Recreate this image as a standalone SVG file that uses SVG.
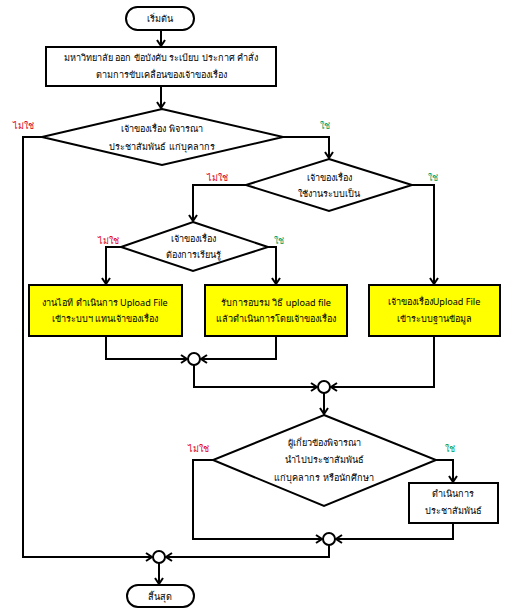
<svg xmlns="http://www.w3.org/2000/svg" width="505" height="614" viewBox="0 0 505 614">
<style>
.s{fill:#fff;stroke:#000;stroke-width:2}
.y{fill:#ffff00;stroke:#000;stroke-width:2}
.t{font-family:"Noto Sans","DejaVu Sans",sans-serif;font-size:9.1px;fill:#000;text-anchor:middle;dominant-baseline:central}
.no{font-family:"Noto Sans","DejaVu Sans",sans-serif;font-size:9px;fill:#e0001b;text-anchor:middle;dominant-baseline:central}
.yes{font-family:"Noto Sans","DejaVu Sans",sans-serif;font-size:9px;fill:#00a060;text-anchor:middle;dominant-baseline:central}
.c path{fill:none;stroke:#000;stroke-width:2;marker-end:url(#a)}
</style>
<defs>
<marker id="a" markerUnits="userSpaceOnUse" markerWidth="10" markerHeight="10" refX="7" refY="5" orient="auto">
<path d="M1,1 L7,5 L1,9" fill="none" stroke="#000" stroke-width="2"/>
</marker>
</defs>
<rect width="505" height="614" fill="#fff"/>
<g class="c" id="connectors">
<path d="M161,30 V46"/>
<path d="M161,86 V108"/>
<path d="M42,137 H23 V557 H152"/>
<path d="M283,137 H329 V158"/>
<path d="M246,185 H193 V221"/>
<path d="M412,185 H434 V284"/>
<path d="M121,247 H106 V284"/>
<path d="M268,247 H276 V284"/>
<path d="M106,336 V359 H187"/>
<path d="M276,336 V359 H201"/>
<path d="M194,365 V387 H317"/>
<path d="M434,336 V387 H331"/>
<path d="M324,393 V414"/>
<path d="M213,460 H193 V539 H322"/>
<path d="M436,460 H453 V482"/>
<path d="M453,523 V539 H336"/>
<path d="M329,545 V557 H166"/>
<path d="M159,563 V584"/>
</g>
<g id="start"><rect class="s" x="126" y="7" width="68" height="23" rx="11.5"/><text class="t" x="160" y="18">เริ่มต้น</text></g>
<g id="announce"><rect class="s" x="46" y="47" width="230" height="39"/><text class="t" x="161" y="57">มหาวิทยาลัย ออก ข้อบังคับ ระเบียบ ประกาศ คำสั่ง</text><text class="t" x="161" y="74">ตามการขับเคลื่อนของเจ้าของเรื่อง</text></g>
<g id="d1"><polygon class="s" points="162,109 283,137 162,165 42,137"/><text class="t" x="162" y="128">เจ้าของเรื่อง พิจารณา</text><text class="t" x="162" y="146">ประชาสัมพันธ์ แก่บุคลากร</text><text class="no" x="23" y="125">ไม่ใช่</text><text class="yes" x="325" y="125">ใช่</text></g>
<g id="d2"><polygon class="s" points="329,159 412,185 329,211 246,185"/><text class="t" x="329" y="177">เจ้าของเรื่อง</text><text class="t" x="329" y="193">ใช้งานระบบเป็น</text><text class="no" x="217" y="177">ไม่ใช่</text><text class="yes" x="433" y="177">ใช่</text></g>
<g id="d3"><polygon class="s" points="193,222 268,247 193,271 121,247"/><text class="t" x="193" y="238">เจ้าของเรื่อง</text><text class="t" x="193" y="254">ต้องการเรียนรู้</text><text class="no" x="108" y="240">ไม่ใช่</text><text class="yes" x="279" y="240">ใช่</text></g>
<g id="boxA"><rect class="y" x="29" y="285" width="153" height="51"/><text class="t" x="105" y="302">งานไอที ดำเนินการ Upload File</text><text class="t" x="105" y="318">เข้าระบบฯ แทนเจ้าของเรื่อง</text></g>
<g id="boxB"><rect class="y" x="205" y="285" width="142" height="51"/><text class="t" x="276" y="302">รับการอบรม วิธี upload file</text><text class="t" x="276" y="318">แล้วดำเนินการโดยเจ้าของเรื่อง</text></g>
<g id="boxC"><rect class="y" x="369" y="285" width="131" height="51"/><text class="t" x="434" y="301">เจ้าของเรื่องUpload File</text><text class="t" x="434" y="318">เข้าระบบฐานข้อมูล</text></g>
<g id="j1"><circle class="s" cx="194" cy="359" r="6"/></g>
<g id="j2"><circle class="s" cx="324" cy="387" r="6"/></g>
<g id="d4"><polygon class="s" points="324,415 436,460 324,506 213,460"/><text class="t" x="324" y="442">ผู้เกี่ยวข้องพิจารณา</text><text class="t" x="324" y="459">นำไปประชาสัมพันธ์</text><text class="t" x="324" y="477">แก่บุคลากร หรือนักศึกษา</text><text class="no" x="198" y="448">ไม่ใช่</text><text class="yes" x="450" y="448">ใช่</text></g>
<g id="boxD"><rect class="s" x="409" y="483" width="89" height="40"/><text class="t" x="453" y="493">ดำเนินการ</text><text class="t" x="453" y="510">ประชาสัมพันธ์</text></g>
<g id="j3"><circle class="s" cx="329" cy="539" r="6"/></g>
<g id="j4"><circle class="s" cx="159" cy="557" r="6"/></g>
<g id="end"><rect class="s" x="127" y="585" width="67" height="22" rx="11"/><text class="t" x="160" y="596">สิ้นสุด</text></g>
</svg>
